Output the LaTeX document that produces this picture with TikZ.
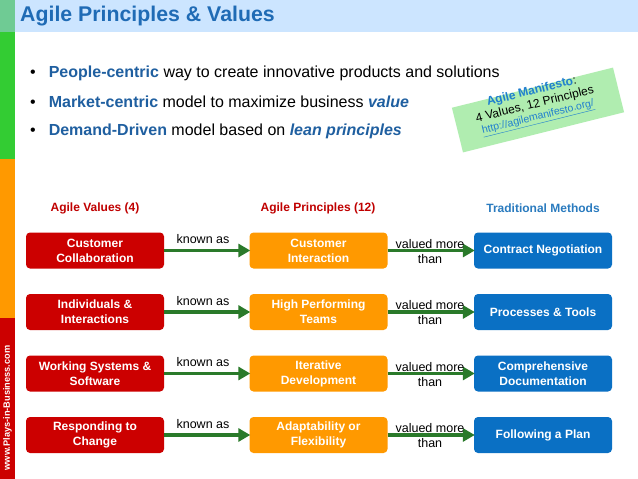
\documentclass[tikz,border=0pt]{standalone}
\usepackage{fontspec}
\setmainfont{Liberation Sans}
\usetikzlibrary{arrows.meta}
\definecolor{sbgreenlight}{HTML}{6FCB94}
\definecolor{sbgreen}{HTML}{33CC33}
\definecolor{sborange}{HTML}{FF9900}
\definecolor{sbred}{HTML}{CC0000}
\definecolor{titlebar}{HTML}{CCE5FF}
\definecolor{titleblue}{HTML}{1F6BB5}
\definecolor{bulletblue}{HTML}{1F5FA0}
\definecolor{hdrred}{HTML}{C00000}
\definecolor{hdrblue}{HTML}{2A7BBF}
\definecolor{boxred}{HTML}{CC0000}
\definecolor{boxorange}{HTML}{FF9900}
\definecolor{boxblue}{HTML}{0A70C4}
\definecolor{arrowgreen}{HTML}{2A7A2A}
\definecolor{notegreen}{HTML}{B0EDB0}
\definecolor{noteblue}{HTML}{1F7FCF}
\tikzset{
  valbox/.style={fill=boxred, rounded corners=4pt, minimum width=138pt, minimum height=36pt,
    text=white, font=\fontsize{12}{15}\selectfont\bfseries, align=center, inner sep=0pt},
  prinbox/.style={valbox, fill=boxorange},
  tradbox/.style={valbox, fill=boxblue},
  hdr/.style={font=\fontsize{12}{14}\selectfont\bfseries},
  lbl/.style={font=\fontsize{12.5}{15}\selectfont, align=center, inner sep=0pt},
  garrow/.style={draw=arrowgreen, line width=3.6pt, -{Triangle[length=12pt,width=13pt]}, shorten >=-1pt},
  bul/.style={anchor=west, font=\fontsize{16}{18}\selectfont, inner sep=0pt}
}
\begin{document}
\begin{tikzpicture}[x=1pt,y=-1pt]
\useasboundingbox (0,0) rectangle (638,479);
\fill[white] (0,0) rectangle (638,479);
% sidebar
\fill[sbgreenlight] (0,0) rectangle (15,32);
\fill[sbgreen] (0,32) rectangle (15,159);
\fill[sborange] (0,159) rectangle (15,318);
\fill[sbred] (0,318) rectangle (15,479);
\node[rotate=90, text=white, font=\fontsize{9.2}{11}\selectfont\bfseries, inner sep=0pt] (site) at (7.5,408) {www.Plays-in-Business.com};
% title bar
\fill[titlebar] (15,0) rectangle (638,32);
\node[anchor=west, text=titleblue, font=\fontsize{21.3}{24}\selectfont\bfseries, inner sep=0pt] (title) at (20,16) {Agile Principles \& Values};
% bullets
\node[bul] (b1) at (30,73) {\textbullet\hspace{13pt}{\color{bulletblue}\bfseries People-centric} way to create innovative products and solutions};
\node[bul] (b2) at (30,102) {\textbullet\hspace{13pt}{\color{bulletblue}\bfseries Market-centric} model to maximize business {\color{bulletblue}\bfseries\itshape value}};
\node[bul] (b3) at (30,131) {\textbullet\hspace{13pt}{\color{bulletblue}\bfseries Demand-Driven} model based on {\color{bulletblue}\bfseries\itshape lean principles}};
% manifesto note
\node[fill=notegreen, rotate=14, minimum width=166pt, minimum height=46pt, inner sep=0pt] (notebg) at (538,110) {};
\node[rotate=14, align=center, inner sep=0pt, font=\fontsize{12}{13.5}\selectfont] (note) at (535,105)
  {{\color{noteblue}\bfseries Agile Manifesto}:\\4 Values, 12 Principles\\[-1pt]
   {\fontsize{10.5}{11}\selectfont\color{noteblue}\underline{http://agilemanifesto.org/}}};
% headers
\node[hdr, text=hdrred] (h1) at (95,208) {Agile Values (4)};
\node[hdr, text=hdrred] (h2) at (318,208) {Agile Principles (12)};
\node[hdr, text=hdrblue] (h3) at (543,208) {Traditional Methods};
% rows
\foreach \y/\va/\pr/\tr [count=\i] in {
  250.5/{Customer\\Collaboration}/{Customer\\Interaction}/{Contract Negotiation},
  312/{Individuals \&\\Interactions}/{High Performing\\Teams}/{Processes \& Tools},
  373.5/{Working Systems \&\\Software}/{Iterative\\Development}/{Comprehensive\\Documentation},
  435/{Responding to\\Change}/{Adaptability or\\Flexibility}/{Following a Plan}}{
  \node[valbox] (v\i) at (95,\y) {\va};
  \node[prinbox] (p\i) at (318.5,\y) {\pr};
  \node[tradbox] (t\i) at (543,\y) {\tr};
  \draw[garrow] (v\i) -- (p\i);
  \draw[garrow] (p\i) -- (t\i);
  \node[lbl] (k\i) at (203,\y-11) {known as};
  \node[lbl] (m\i) at (430,\y+1) {valued more\\than};
}
\end{tikzpicture}
\end{document}
